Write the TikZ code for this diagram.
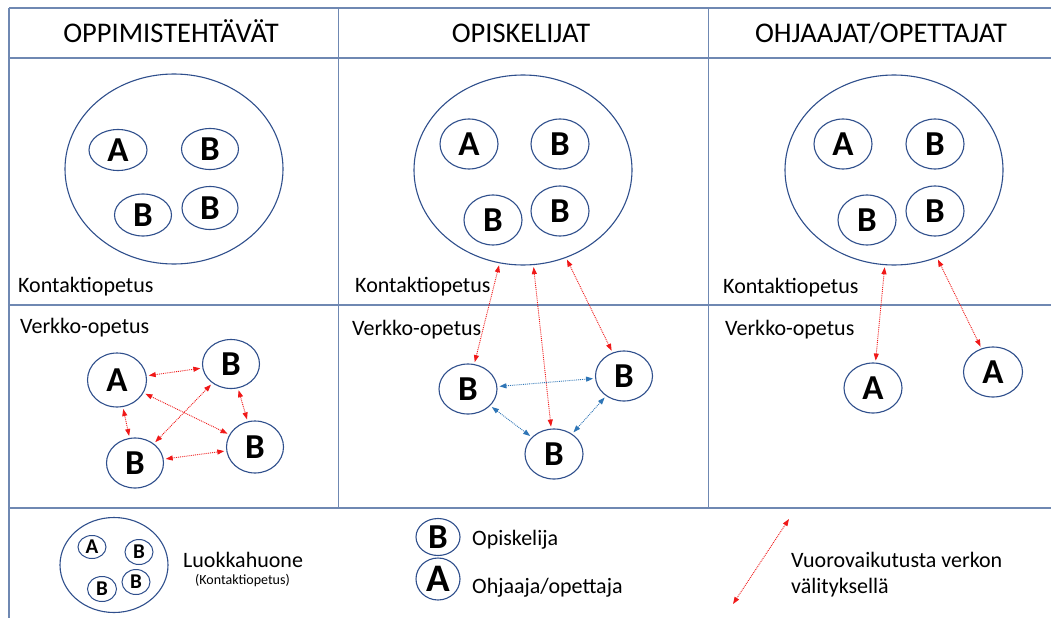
\documentclass[tikz,border=0pt]{standalone}
\usepackage{fontspec}
\setmainfont{Carlito}
\usetikzlibrary{shapes.geometric,arrows.meta}
\definecolor{gridc}{HTML}{6F88B2}
\definecolor{ellc}{HTML}{2F4F8C}
\definecolor{arrred}{HTML}{F01818}
\definecolor{arrblue}{HTML}{2E75B6}
\tikzset{
  gridline/.style={draw=gridc, line width=1.3pt},
  bigell/.style={ellipse, draw=ellc, line width=1.1pt, inner sep=0pt, minimum width=218pt, minimum height=190pt},
  ell/.style={ellipse, draw=ellc, line width=1.1pt, inner sep=0pt, font=\fontsize{35}{37}\selectfont\bfseries},
  legell/.style={ellipse, draw=ellc, line width=1pt, inner sep=0pt, font=\fontsize{21}{23}\selectfont\bfseries},
  head/.style={anchor=base, inner sep=0pt, font=\fontsize{28.5}{31}\selectfont},
  lbl/.style={anchor=base west, inner sep=0pt, font=\fontsize{22}{25}\selectfont},
  redarr/.style={draw=arrred, densely dotted, line width=0.9pt, {Triangle[length=7pt,width=5pt]}-{Triangle[length=7pt,width=5pt]}, shorten <=2pt, shorten >=2pt},
  bluearr/.style={draw=arrblue, densely dotted, line width=0.9pt, {Triangle[length=7pt,width=5pt]}-{Triangle[length=7pt,width=5pt]}, shorten <=2pt, shorten >=2pt}
}
\begin{document}
\begin{tikzpicture}[x=1pt,y=-1pt]
\useasboundingbox (0,0) rectangle (1051,618);
\fill[white] (0,0) rectangle (1051,618);
% grid
\draw[gridline] (9,8) -- (1051,8);
\draw[gridline] (9,58) -- (1051,58);
\draw[gridline] (9,305) -- (1051,305);
\draw[gridline, line width=2pt] (9,508) -- (1051,508);
\draw[gridline] (9,8) -- (9,618);
\draw[gridline, line width=0.8pt] (338,8) -- (338,508);
\draw[gridline, line width=0.8pt] (708,8) -- (708,508);
% headers
\node[head] (h1) at (171,42) {OPPIMISTEHTÄVÄT};
\node[head] (h2) at (521,42) {OPISKELIJAT};
\node[head] (h3) at (881,42) {OHJAAJAT/OPETTAJAT};
% labels
\node[lbl] (k1) at (18,292) {Kontaktiopetus};
\node[lbl] (k2) at (355,292) {Kontaktiopetus};
\node[lbl] (k3) at (723,293) {Kontaktiopetus};
\node[lbl] (v1) at (20,333) {Verkko-opetus};
\node[lbl] (v2) at (352,335) {Verkko-opetus};
\node[lbl] (v3) at (725,335) {Verkko-opetus};
% column 1 classroom
\node[bigell] (c1) at (174,169) {};
\node[ell, minimum width=58pt, minimum height=41pt] (c1a) at (118,150) {A};
\node[ell, minimum width=57pt, minimum height=41pt] (c1b1) at (210,149) {B};
\node[ell, minimum width=57pt, minimum height=42pt] (c1b2) at (143,215) {B};
\node[ell, minimum width=56pt, minimum height=43pt] (c1b3) at (210,208) {B};
% column 2 classroom
\node[bigell] (c2) at (523,170) {};
\node[ell, minimum width=58pt, minimum height=50pt] (c2a) at (469,144) {A};
\node[ell, minimum width=58pt, minimum height=50pt] (c2b1) at (560,144) {B};
\node[ell, minimum width=58pt, minimum height=50pt] (c2b2) at (493,220) {B};
\node[ell, minimum width=58pt, minimum height=50pt] (c2b3) at (560,211) {B};
% column 3 classroom
\node[bigell] (c3) at (894,170) {};
\node[ell, minimum width=58pt, minimum height=50pt] (c3a) at (843,144) {A};
\node[ell, minimum width=58pt, minimum height=50pt] (c3b1) at (935,144) {B};
\node[ell, minimum width=58pt, minimum height=50pt] (c3b2) at (867,220) {B};
\node[ell, minimum width=58pt, minimum height=50pt] (c3b3) at (935,211) {B};
% column 1 network
\node[ell, minimum width=59pt, minimum height=54pt] (n1a) at (117,380) {A};
\node[ell, minimum width=57pt, minimum height=49pt] (n1b1) at (231,364) {B};
\node[ell, minimum width=57pt, minimum height=50pt] (n1b2) at (135,463) {B};
\node[ell, minimum width=57pt, minimum height=52pt] (n1b3) at (255,447) {B};
\draw[redarr] (n1a) -- (n1b1);
\draw[redarr] (n1a) -- (n1b2);
\draw[redarr] (n1a) -- (n1b3);
\draw[redarr] (n1b1) -- (n1b2);
\draw[redarr] (n1b1) -- (n1b3);
\draw[redarr] (n1b2) -- (n1b3);
% column 2 network
\node[ell, minimum width=58pt, minimum height=50pt] (n2b1) at (468,389) {B};
\node[ell, minimum width=57pt, minimum height=50pt] (n2b2) at (624,376) {B};
\node[ell, minimum width=58pt, minimum height=50pt] (n2b3) at (554,454) {B};
\draw[redarr] (c2) -- (n2b1);
\draw[redarr] (c2) -- (n2b3);
\draw[redarr] (c2) -- (n2b2);
\draw[bluearr] (n2b1) -- (n2b2);
\draw[bluearr] (n2b1) -- (n2b3);
\draw[bluearr] (n2b3) -- (n2b2);
% column 3 network
\node[ell, minimum width=58pt, minimum height=50pt] (n3a1) at (873,388) {A};
\node[ell, minimum width=59pt, minimum height=50pt] (n3a2) at (993,372) {A};
\draw[redarr] (c3) -- (n3a1);
\draw[redarr] (c3) -- (n3a2);
% legend
\node[ellipse, draw=ellc, line width=1.1pt, inner sep=0pt, minimum width=108pt, minimum height=95pt] (lg) at (114,565) {};
\node[legell, minimum width=28pt, minimum height=23pt] (lga) at (92,547) {A};
\node[legell, minimum width=28pt, minimum height=25pt] (lgb1) at (139,552) {B};
\node[legell, minimum width=29pt, minimum height=25pt] (lgb2) at (102,589) {B};
\node[legell, minimum width=28pt, minimum height=25pt] (lgb3) at (136,582) {B};
\node[lbl] (lt1) at (183,567) {Luokkahuone};
\node[anchor=base west, inner sep=0pt, font=\fontsize{14}{16}\selectfont] (lt2) at (195,584) {(Kontaktiopetus)};
\node[ell, minimum width=44pt, minimum height=37pt] (lb) at (438,537) {B};
\node[ell, minimum width=44pt, minimum height=42pt, font=\fontsize{39}{41}\selectfont\bfseries] (la) at (438,579) {A};
\node[lbl] (lt3) at (472,545) {Opiskelija};
\node[lbl] (lt4) at (472,593) {Ohjaaja/opettaja};
\coordinate (ar1) at (789,519);
\coordinate (ar2) at (733,604);
\draw[redarr, shorten <=0pt, shorten >=0pt] (ar1) -- (ar2);
\node[lbl] (lt5) at (791,567) {Vuorovaikutusta verkon};
\node[lbl] (lt6) at (791,593) {välityksellä};
\end{tikzpicture}
\end{document}
